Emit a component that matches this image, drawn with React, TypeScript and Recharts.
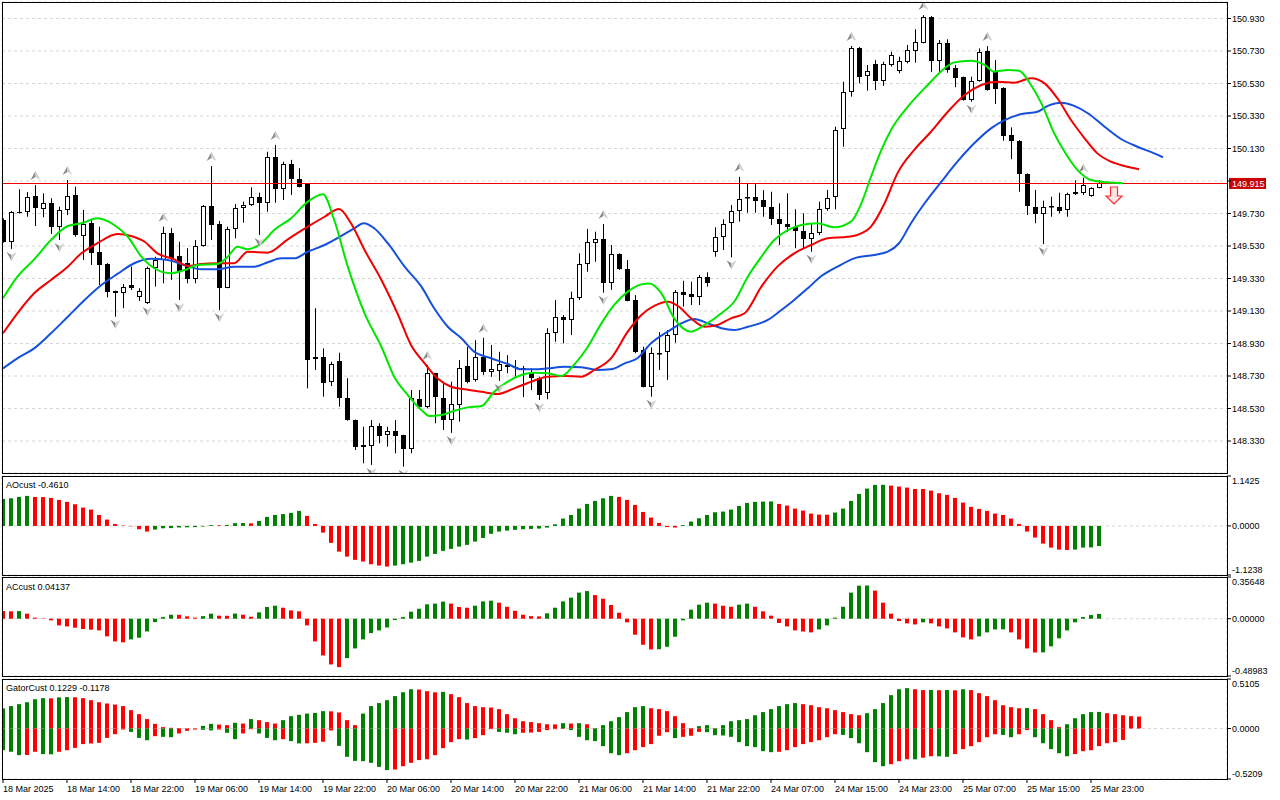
import React from 'react'
import {
  ComposedChart,
  Bar,
  Line,
  Scatter,
  XAxis,
  YAxis,
  CartesianGrid,
  ReferenceLine,
  Cell
} from 'recharts'

const FONT = '"Liberation Sans", Arial, sans-serif'
const GREEN = '#008000'
const RED = '#ff0000'
const GRID = '#d6d6d6'

// H1 candles, 18 Mar 06:00 .. 26 Mar 00:00
const opens = [
  149.690, 149.556, 149.740, 149.737, 149.838, 149.756, 149.793, 149.649, 149.750, 149.844,
  149.592, 149.673, 149.495, 149.420, 149.253, 149.239, 149.290, 149.218, 149.177, 149.393,
  149.444, 149.612, 149.468, 149.424, 149.325, 149.532, 149.776, 149.665, 149.273, 149.633,
  149.762, 149.780, 149.830, 149.793, 150.076, 149.879, 150.035, 149.940, 149.912, 148.833,
  148.845, 148.695, 148.822, 148.593, 148.459, 148.305, 148.299, 148.424, 148.365, 148.393,
  148.365, 148.279, 148.590, 148.541, 148.747, 148.593, 148.459, 148.551, 148.792, 148.705,
  148.849, 148.753, 148.763, 148.797, 148.785, 148.767, 148.747, 148.716, 148.623, 148.993,
  149.095, 149.075, 149.208, 149.417, 149.550, 149.571, 149.304, 149.479, 149.390, 149.198,
  148.890, 148.664, 148.870, 148.876, 148.982, 149.245, 149.235, 149.218, 149.337, 149.495,
  149.583, 149.670, 149.745, 149.823, 149.833, 149.813, 149.772, 149.694, 149.665, 149.649,
  149.624, 149.571, 149.608, 149.756, 149.830, 150.248, 150.476, 150.746, 150.576, 150.650,
  150.547, 150.644, 150.609, 150.664, 150.732, 150.781, 150.941, 150.670, 150.781, 150.623,
  150.568, 150.428, 150.547, 150.730, 150.603, 150.500, 150.213, 150.178, 149.973, 149.768,
  149.727, 149.768, 149.772, 149.752, 149.850, 149.858, 149.840, 149.888
]
const highs = [
  149.700, 149.745, 149.879, 149.862, 149.905, 149.854, 149.824, 149.772, 149.936, 149.895,
  149.752, 149.696, 149.649, 149.425, 149.256, 149.296, 149.403, 149.270, 149.403, 149.464,
  149.649, 149.640, 149.556, 149.516, 149.567, 149.782, 150.022, 149.684, 149.649, 149.788,
  149.803, 149.891, 149.858, 150.110, 150.152, 150.049, 150.060, 150.008, 149.915, 149.147,
  148.900, 148.818, 148.873, 148.716, 148.462, 148.418, 148.459, 148.439, 148.418, 148.459,
  148.368, 148.644, 148.644, 148.798, 148.750, 148.695, 148.695, 148.828, 148.910, 148.950,
  148.965, 148.921, 148.879, 148.859, 148.828, 148.792, 148.777, 148.726, 149.024, 149.198,
  149.105, 149.249, 149.485, 149.635, 149.618, 149.665, 149.536, 149.485, 149.444, 149.228,
  148.910, 148.906, 149.000, 149.013, 149.259, 149.316, 149.310, 149.352, 149.368, 149.645,
  149.694, 149.782, 149.956, 149.916, 149.910, 149.874, 149.864, 149.793, 149.854, 149.756,
  149.731, 149.665, 149.803, 149.875, 150.264, 150.541, 150.761, 150.755, 150.644, 150.674,
  150.664, 150.725, 150.695, 150.767, 150.864, 150.951, 150.945, 150.798, 150.802, 150.644,
  150.572, 150.572, 150.746, 150.760, 150.675, 150.507, 150.260, 150.182, 149.977, 149.875,
  149.809, 149.833, 149.858, 149.858, 149.935, 149.950, 149.891, 149.936
]
const lows = [
  149.550, 149.512, 149.730, 149.710, 149.653, 149.707, 149.604, 149.567, 149.720, 149.587,
  149.444, 149.413, 149.290, 149.214, 149.095, 149.147, 149.259, 149.192, 149.173, 149.280,
  149.300, 149.321, 149.198, 149.300, 149.300, 149.526, 149.567, 149.136, 149.270, 149.577,
  149.673, 149.776, 149.598, 149.741, 149.796, 149.813, 149.844, 149.890, 148.654, 148.767,
  148.603, 148.668, 148.541, 148.455, 148.275, 148.193, 148.183, 148.316, 148.295, 148.254,
  148.172, 148.254, 148.531, 148.531, 148.439, 148.398, 148.380, 148.449, 148.685, 148.695,
  148.736, 148.725, 148.700, 148.747, 148.725, 148.600, 148.644, 148.582, 148.587, 148.941,
  148.931, 148.982, 149.198, 149.372, 149.433, 149.243, 149.260, 149.383, 149.190, 148.870,
  148.660, 148.603, 148.767, 148.706, 148.935, 149.157, 149.167, 149.167, 149.280, 149.464,
  149.505, 149.460, 149.680, 149.735, 149.735, 149.710, 149.659, 149.536, 149.618, 149.516,
  149.516, 149.495, 149.597, 149.747, 149.756, 150.141, 150.449, 150.531, 150.486, 150.490,
  150.515, 150.634, 150.593, 150.654, 150.658, 150.777, 150.602, 150.588, 150.596, 150.507,
  150.424, 150.418, 150.541, 150.486, 150.404, 150.178, 150.064, 149.864, 149.721, 149.670,
  149.542, 149.710, 149.731, 149.710, 149.844, 149.844, 149.833, 149.885
]
const closes = [
  149.557, 149.737, 149.735, 149.833, 149.762, 149.793, 149.649, 149.752, 149.840, 149.598,
  149.665, 149.489, 149.413, 149.249, 149.239, 149.276, 149.270, 149.253, 149.393, 149.444,
  149.608, 149.454, 149.372, 149.325, 149.532, 149.776, 149.659, 149.273, 149.633, 149.762,
  149.780, 149.830, 149.793, 150.080, 149.879, 150.033, 149.941, 149.895, 148.830, 148.845,
  148.689, 148.804, 148.593, 148.459, 148.295, 148.295, 148.424, 148.363, 148.393, 148.361,
  148.279, 148.593, 148.541, 148.747, 148.598, 148.459, 148.556, 148.777, 148.695, 148.849,
  148.753, 148.772, 148.803, 148.785, 148.779, 148.780, 148.716, 148.613, 148.993, 149.091,
  149.075, 149.208, 149.417, 149.553, 149.571, 149.304, 149.479, 149.387, 149.193, 148.880,
  148.664, 148.873, 148.873, 148.982, 149.245, 149.229, 149.218, 149.341, 149.304, 149.583,
  149.665, 149.745, 149.817, 149.833, 149.809, 149.768, 149.694, 149.665, 149.649, 149.624,
  149.571, 149.608, 149.756, 149.827, 150.244, 150.476, 150.746, 150.572, 150.609, 150.547,
  150.650, 150.705, 150.668, 150.735, 150.787, 150.941, 150.670, 150.781, 150.613, 150.562,
  150.428, 150.547, 150.726, 150.490, 150.494, 150.207, 150.178, 149.971, 149.778, 149.727,
  149.768, 149.774, 149.747, 149.848, 149.862, 149.903, 149.885, 149.915
]

const timeLabels = [
  '18 Mar 2025', '18 Mar 14:00', '18 Mar 22:00', '19 Mar 06:00', '19 Mar 14:00', '19 Mar 22:00',
  '20 Mar 06:00', '20 Mar 14:00', '20 Mar 22:00', '21 Mar 06:00', '21 Mar 14:00', '21 Mar 22:00',
  '24 Mar 07:00', '24 Mar 15:00', '24 Mar 23:00', '25 Mar 07:00', '25 Mar 15:00', '25 Mar 23:00'
]
const priceTicks = [
  148.33, 148.53, 148.73, 148.93, 149.13, 149.33, 149.53,
  149.73, 149.93, 150.13, 150.33, 150.53, 150.73, 150.93
]
const lastPrice = 149.915

// alligator lines [bar, price], already shifted forward
const lips: [number, number][] = [
  [0, 149.208], [1.8, 149.341], [3.9, 149.448], [6, 149.567], [8.1, 149.653], [9.8, 149.67],
  [11.8, 149.7], [13.9, 149.659], [15.6, 149.587], [17.3, 149.464], [18.9, 149.393], [21, 149.362],
  [22.7, 149.382], [24.3, 149.413], [26.8, 149.419], [28.1, 149.464], [29.3, 149.526], [30.6, 149.51],
  [32.3, 149.547], [33.9, 149.628], [36, 149.7], [38.1, 149.803], [40, 149.848], [41.4, 149.69],
  [43.1, 149.403], [45.2, 149.116], [47.3, 148.91], [48.9, 148.726], [50.6, 148.613], [52.3, 148.521],
  [53.3, 148.484], [54.8, 148.49], [56.4, 148.516], [58.1, 148.537], [59.8, 148.545], [61.4, 148.633],
  [63.1, 148.695], [64.8, 148.736], [66.4, 148.75], [68.1, 148.747], [69.8, 148.73], [71.4, 148.8],
  [73.1, 148.91], [74.8, 149.054], [76.4, 149.167], [78.1, 149.249], [79.8, 149.294], [80.8, 149.3],
  [82.3, 149.239], [83.9, 149.085], [86, 149.003], [87.7, 149.044], [89.8, 149.116], [91.4, 149.187],
  [93.1, 149.341], [94.8, 149.464], [96.4, 149.567], [98.1, 149.628], [99.8, 149.659], [101.8, 149.67],
  [103.9, 149.645], [106, 149.68], [107.3, 149.793], [108.5, 149.956], [109.8, 150.121], [111, 150.244],
  [113.1, 150.387], [115.6, 150.521], [117.7, 150.624], [118.9, 150.66], [121, 150.67], [122.7, 150.644],
  [123.9, 150.603], [125.6, 150.613], [127, 150.609], [128.5, 150.521], [129.8, 150.408], [131.4, 150.224],
  [132.7, 150.11], [134.3, 149.998], [136, 149.936], [137.9, 149.922], [140, 149.916]
]
const teeth: [number, number][] = [
  [0, 148.993], [1.8, 149.116], [3.9, 149.239], [6, 149.321], [8.1, 149.403], [9.8, 149.485],
  [11.8, 149.547], [14.3, 149.604], [16, 149.592], [17.7, 149.556], [19.3, 149.485], [21.4, 149.448],
  [23.1, 149.407], [24.8, 149.419], [26.8, 149.424], [28.9, 149.424], [30.6, 149.495], [33.1, 149.489],
  [35.6, 149.571], [38.1, 149.649], [40.2, 149.71], [42, 149.758], [43.5, 149.67], [45.2, 149.505],
  [47.3, 149.321], [49.3, 149.116], [51, 148.921], [52.7, 148.808], [54.3, 148.716], [56, 148.664],
  [57.7, 148.648], [59.8, 148.633], [61.8, 148.619], [63.9, 148.654], [66, 148.695], [68.1, 148.726],
  [70.2, 148.73], [72.3, 148.726], [73.9, 148.767], [76, 148.839], [78.1, 149.003], [79.8, 149.105],
  [81.4, 149.161], [83.1, 149.187], [84.5, 149.156], [86, 149.085], [87.7, 149.033], [89.3, 149.044],
  [91, 149.085], [92.7, 149.116], [94.8, 149.28], [96.8, 149.403], [98.9, 149.485], [101, 149.536],
  [103.1, 149.577], [105.6, 149.587], [106.8, 149.598], [108.5, 149.649], [110.2, 149.793], [111.8, 149.977],
  [113.9, 150.121], [116, 150.233], [118.1, 150.356], [120.2, 150.459], [122.3, 150.521], [124.3, 150.541],
  [126.4, 150.535], [128.5, 150.562], [130.2, 150.531], [131.8, 150.439], [133.5, 150.305], [135.2, 150.193],
  [136.8, 150.1], [138.5, 150.049], [140.2, 150.022], [142, 150.002]
]
const jaw: [number, number][] = [
  [0, 148.777], [1.8, 148.839], [3.9, 148.9], [6, 148.993], [8.1, 149.095], [10.2, 149.198],
  [12.3, 149.29], [14.3, 149.358], [16.4, 149.424], [18.5, 149.452], [20.6, 149.444], [22.7, 149.413],
  [24.8, 149.387], [26.8, 149.387], [28.9, 149.403], [31.4, 149.403], [33.1, 149.43], [34.8, 149.454],
  [36.4, 149.454], [38.1, 149.495], [40.2, 149.536], [42.3, 149.592], [43.9, 149.639], [45.1, 149.67],
  [46.4, 149.639], [48.1, 149.547], [50.2, 149.403], [52.3, 149.28], [53.9, 149.147], [55.6, 149.033],
  [57.3, 148.962], [58.9, 148.88], [61, 148.839], [63.1, 148.804], [64.8, 148.771], [66.4, 148.771],
  [68.1, 148.777], [70.2, 148.787], [72.3, 148.784], [74.3, 148.767], [76, 148.771], [77.7, 148.808],
  [79.3, 148.839], [81, 148.931], [83.1, 149.003], [84.8, 149.054], [86.4, 149.081], [88.1, 149.054],
  [89.8, 149.024], [91.4, 149.013], [93.1, 149.033], [95.6, 149.075], [97.3, 149.136], [98.9, 149.198],
  [100.6, 149.27], [102.3, 149.345], [104.3, 149.403], [106.4, 149.454], [108.9, 149.475], [110.6, 149.495],
  [112, 149.547], [113.5, 149.67], [115.2, 149.793], [117.3, 149.926], [119.3, 150.049], [121.4, 150.162],
  [123.5, 150.254], [125.2, 150.305], [127.3, 150.342], [129.3, 150.356], [130.6, 150.392], [132.3, 150.412],
  [133.9, 150.392], [135.6, 150.347], [137.7, 150.264], [139.8, 150.187], [141.8, 150.141], [143.9, 150.1],
  [145, 150.076]
]

const fractalUp = [4, 8, 20, 26, 34, 53, 60, 75, 92, 106, 115, 123, 135]
const fractalDown = [1, 7, 14, 18, 22, 27, 32, 46, 50, 56, 62, 67, 75, 81, 91, 101, 121, 130]
const signalBar = 139
const signalPrice = 149.893

const aoValues = [
  0.618, 0.633, 0.664, 0.687, 0.664, 0.660, 0.641, 0.595, 0.550, 0.496,
  0.419, 0.374, 0.251, 0.145, 0.045, 0.009, -0.009, -0.076, -0.129, -0.084,
  -0.054, -0.050, -0.036, -0.032, -0.027, -0.014, 0.018, 0.014, 0.020, 0.063,
  0.065, 0.059, 0.113, 0.206, 0.251, 0.271, 0.298, 0.344, 0.229, 0.045,
  -0.153, -0.389, -0.588, -0.702, -0.777, -0.816, -0.877, -0.908, -0.931, -0.908,
  -0.877, -0.841, -0.801, -0.702, -0.641, -0.572, -0.526, -0.473, -0.434, -0.359,
  -0.275, -0.181, -0.129, -0.107, -0.090, -0.076, -0.069, -0.061, -0.038, 0.038,
  0.168, 0.251, 0.397, 0.504, 0.572, 0.633, 0.687, 0.664, 0.595, 0.481,
  0.320, 0.191, 0.069, -0.027, -0.036, 0.018, 0.099, 0.175, 0.251, 0.313,
  0.328, 0.374, 0.457, 0.526, 0.550, 0.557, 0.560, 0.504, 0.466, 0.397,
  0.351, 0.282, 0.259, 0.257, 0.306, 0.397, 0.572, 0.732, 0.854, 0.938,
  0.941, 0.923, 0.900, 0.877, 0.847, 0.845, 0.809, 0.748, 0.710, 0.641,
  0.534, 0.435, 0.389, 0.344, 0.282, 0.251, 0.168, 0.045, -0.129, -0.267,
  -0.404, -0.496, -0.542, -0.551, -0.542, -0.496, -0.493, -0.461
]
const aoPrev = 0.6
const acValues = [
  0.066, 0.063, 0.065, 0.043, 0.009, 0.003, -0.014, -0.057, -0.066, -0.077,
  -0.088, -0.094, -0.100, -0.151, -0.194, -0.202, -0.177, -0.163, -0.109, -0.029,
  0.014, 0.034, 0.033, 0.020, 0.009, 0.022, 0.043, 0.026, 0.025, 0.044,
  0.034, 0.017, 0.054, 0.100, 0.111, 0.094, 0.071, 0.063, -0.057, -0.194,
  -0.314, -0.391, -0.414, -0.337, -0.254, -0.177, -0.123, -0.100, -0.075, -0.011,
  0.014, 0.060, 0.085, 0.123, 0.129, 0.146, 0.129, 0.100, 0.094, 0.111,
  0.148, 0.154, 0.137, 0.102, 0.068, 0.034, 0.022, 0.020, 0.046, 0.094,
  0.148, 0.180, 0.223, 0.236, 0.202, 0.171, 0.117, 0.051, -0.031, -0.137,
  -0.223, -0.263, -0.261, -0.240, -0.154, -0.014, 0.077, 0.120, 0.137, 0.129,
  0.111, 0.102, 0.120, 0.129, 0.102, 0.063, 0.026, -0.037, -0.066, -0.100,
  -0.109, -0.117, -0.092, -0.057, 0.009, 0.102, 0.223, 0.282, 0.284, 0.240,
  0.137, 0.043, -0.020, -0.040, -0.049, -0.031, -0.040, -0.066, -0.083, -0.117,
  -0.160, -0.177, -0.151, -0.117, -0.092, -0.091, -0.117, -0.177, -0.254, -0.289,
  -0.288, -0.236, -0.168, -0.100, -0.031, 0.014, 0.031, 0.041
]
const acPrev = 0.068
const gatorUp = [
  0.207, 0.231, 0.251, 0.271, 0.302, 0.313, 0.311, 0.321, 0.324, 0.322,
  0.313, 0.292, 0.271, 0.258, 0.247, 0.231, 0.189, 0.148, 0.097, 0.048,
  0.014, 0.007, 0.004, 0.002, 0.001, 0.027, 0.048, 0.040, 0.035, 0.059,
  0.051, 0.097, 0.086, 0.066, 0.051, 0.086, 0.127, 0.141, 0.154, 0.161,
  0.179, 0.177, 0.165, 0.086, 0.035, 0.154, 0.231, 0.262, 0.292, 0.334,
  0.374, 0.405, 0.402, 0.385, 0.373, 0.378, 0.354, 0.323, 0.262, 0.231,
  0.220, 0.216, 0.200, 0.148, 0.106, 0.075, 0.066, 0.055, 0.044, 0.042,
  0.055, 0.051, 0.055, 0.044, 0.004, 0.035, 0.075, 0.117, 0.169, 0.220,
  0.231, 0.209, 0.200, 0.179, 0.127, 0.055, 0.004, 0.024, 0.035, 0.004,
  0.035, 0.075, 0.086, 0.097, 0.137, 0.169, 0.200, 0.231, 0.251, 0.262,
  0.251, 0.240, 0.220, 0.209, 0.189, 0.169, 0.148, 0.137, 0.158, 0.200,
  0.262, 0.344, 0.405, 0.416, 0.405, 0.396, 0.398, 0.395, 0.397, 0.394,
  0.405, 0.396, 0.365, 0.334, 0.292, 0.240, 0.220, 0.209, 0.211, 0.200,
  0.148, 0.086, 0.014, 0.044, 0.106, 0.148, 0.169, 0.171, 0.158, 0.148,
  0.137, 0.127, 0.123
]
const gatorDown = [
  -0.224, -0.240, -0.275, -0.273, -0.240, -0.264, -0.266, -0.240, -0.224, -0.200,
  -0.161, -0.154, -0.148, -0.097, -0.059, -0.011, -0.035, -0.097, -0.121, -0.079,
  -0.086, -0.090, -0.051, -0.024, -0.011, -0.014, -0.020, -0.011, -0.044, -0.110,
  -0.051, -0.007, -0.051, -0.097, -0.121, -0.110, -0.130, -0.154, -0.153, -0.148,
  -0.137, -0.020, -0.179, -0.292, -0.334, -0.337, -0.354, -0.396, -0.429, -0.423,
  -0.389, -0.354, -0.326, -0.317, -0.275, -0.203, -0.141, -0.110, -0.114, -0.099,
  -0.069, -0.007, -0.035, -0.044, -0.059, -0.044, -0.042, -0.035, -0.017, -0.007,
  -0.004, -0.017, -0.086, -0.121, -0.130, -0.182, -0.255, -0.275, -0.255, -0.224,
  -0.192, -0.161, -0.075, -0.038, -0.099, -0.086, -0.075, -0.035, -0.038, -0.069,
  -0.072, -0.086, -0.141, -0.182, -0.192, -0.234, -0.244, -0.240, -0.224, -0.192,
  -0.161, -0.141, -0.121, -0.090, -0.059, -0.066, -0.099, -0.152, -0.244, -0.347,
  -0.389, -0.368, -0.337, -0.317, -0.318, -0.302, -0.286, -0.287, -0.292, -0.264,
  -0.213, -0.182, -0.141, -0.090, -0.059, -0.066, -0.090, -0.059, -0.017, -0.090,
  -0.152, -0.213, -0.255, -0.286, -0.264, -0.234, -0.224, -0.182, -0.152, -0.141,
  -0.118
]
const gatorUpPrev = 0.2
const gatorDownPrev = -0.21

const aoRange: [number, number] = [-1.1238, 1.1425]
const acRange: [number, number] = [-0.48983, 0.35648]
const gatorRange: [number, number] = [-0.5209, 0.5105]

// one bar = 8px, plot runs from x=2 to x=1227
const X_DOMAIN: [number, number] = [-0.125, 153]
const gridIdx = Array.from({ length: 39 }, (_, k) => k * 4)
const timeIdx = timeLabels.map((_, k) => k * 8)
const MARGIN = { top: 2, right: 0, bottom: 1, left: 2 }

const candles = opens.map((o, i) => ({
  i, o, h: highs[i], l: lows[i], c: closes[i], range: [lows[i], highs[i]]
}))
const toRows = (pts: [number, number][]) => pts.map(([i, v]) => ({ i, v }))
const upRows = fractalUp.map((i) => ({ i, v: highs[i] }))
const downRows = fractalDown.map((i) => ({ i, v: lows[i] }))
const signalRows = [{ i: signalBar, v: signalPrice }]

const risingColors = (vals: number[], prev: number, useAbs = false) =>
  vals.map((v, k) => {
    const before = k === 0 ? prev : vals[k - 1]
    const a = useAbs ? Math.abs(v) : v
    const b = useAbs ? Math.abs(before) : before
    return a > b ? GREEN : RED
  })

const aoRows = aoValues.map((v, i) => ({ i, v }))
const acRows = acValues.map((v, i) => ({ i, v }))
const gatorRows = gatorUp.map((up, i) => ({ i, up, lo: i < gatorDown.length ? gatorDown[i] : null }))
const aoColors = risingColors(aoValues, aoPrev)
const acColors = risingColors(acValues, acPrev)
const upColors = risingColors(gatorUp, gatorUpPrev)
const loColors = risingColors(gatorDown, gatorDownPrev, true)

function Candle(props: any) {
  const { x, y, width, height, payload } = props
  if (!payload) return null
  const { o, h, l, c } = payload
  const cx = Math.round(x + width / 2)
  const top0 = Math.min(y, y + height)
  const hh = Math.abs(height)
  const k = hh / (h - l)
  const bTop = Math.round(top0 + (h - Math.max(o, c)) * k)
  const bBot = Math.round(top0 + (h - Math.min(o, c)) * k)
  const bh = Math.max(bBot - bTop, 1)
  return (
    <g>
      <line x1={cx + 0.5} x2={cx + 0.5} y1={top0} y2={top0 + hh} stroke="#000" strokeWidth={1} />
      {c >= o ? (
        <rect x={cx - 1.5} y={bTop + 0.5} width={4} height={Math.max(bh - 1, 0.5)} fill="#fff" stroke="#000" strokeWidth={1} />
      ) : (
        <rect x={cx - 2} y={bTop} width={5} height={bh} fill="#000" />
      )}
    </g>
  )
}

function FractalUp(p: any) {
  const { cx, cy } = p
  const x = cx + 0.5
  const t = cy - 14
  return (
    <g>
      <polygon points={`${x},${t} ${x - 5},${t + 9} ${x},${t + 6}`} fill="#8a8a8a" />
      <polygon points={`${x},${t} ${x + 5},${t + 9} ${x},${t + 6}`} fill="#d0d0d0" />
    </g>
  )
}

function FractalDown(p: any) {
  const { cx, cy } = p
  const x = cx + 0.5
  const b = cy + 12
  return (
    <g>
      <polygon points={`${x},${b} ${x - 5},${b - 9} ${x},${b - 6}`} fill="#8a8a8a" />
      <polygon points={`${x},${b} ${x + 5},${b - 9} ${x},${b - 6}`} fill="#d0d0d0" />
    </g>
  )
}

function SignalArrow(p: any) {
  const { cx, cy } = p
  const x = cx - 1
  const pts = [[-3.5, 0], [3.5, 0], [3.5, 9], [8, 9], [0, 17], [-8, 9], [-3.5, 9]]
    .map(([dx, dy]) => `${x + dx},${cy + dy}`)
    .join(' ')
  return <polygon points={pts} fill="#ffe6e6" stroke="#ff2a2a" strokeWidth={1.2} />
}

function PriceTick(props: any) {
  const { x, y, payload } = props
  if (Math.abs(payload.value - 149.93) < 1e-6) return null
  return (
    <text x={x} y={y + 3.2} fontSize={9} fontFamily={FONT} fill="#000">
      {payload.value.toFixed(3)}
    </text>
  )
}

function PriceTag(props: any) {
  const vb = props.viewBox
  if (!vb) return null
  const right = vb.x + vb.width
  return (
    <g>
      <rect x={right + 2} y={vb.y - 5.5} width={37} height={11} fill="#c80000" />
      <text x={right + 5} y={vb.y + 3.2} fontSize={9} fontFamily={FONT} fill="#fff">
        {lastPrice.toFixed(3)}
      </text>
    </g>
  )
}

const edgeTick = (range: [number, number], digits: number) => (props: any) => {
  const { x, y, payload } = props
  const v = payload.value
  const shift = v === range[1] ? 5 : v === range[0] ? -5 : 0
  return (
    <text x={x} y={y + shift + 3.2} fontSize={9} fontFamily={FONT} fill="#000">
      {v.toFixed(digits)}
    </text>
  )
}

function TimeTick(props: any) {
  const { x, y, payload } = props
  const k = timeIdx.indexOf(payload.value)
  if (k < 0) return null
  return (
    <text x={x} y={y + 8.5} fontSize={9} fontFamily={FONT} fill="#000">
      {timeLabels[k]}
    </text>
  )
}

const gridAxis = (
  <XAxis
    dataKey="i"
    type="number"
    domain={X_DOMAIN}
    ticks={gridIdx}
    interval={0}
    allowDataOverflow
    height={0}
    tick={false}
    tickLine={false}
    axisLine={false}
  />
)

function subYAxis(range: [number, number], digits: number) {
  return (
    <YAxis
      orientation="right"
      width={53}
      type="number"
      domain={range}
      ticks={[range[0], 0, range[1]]}
      interval={0}
      allowDataOverflow
      tick={edgeTick(range, digits)}
      tickSize={4}
      tickMargin={1}
      tickLine={{ stroke: '#000' }}
      axisLine={false}
    />
  )
}

const box = (top: number, height: number): React.CSSProperties => ({
  position: 'absolute',
  left: 2,
  top,
  width: 1226,
  height,
  border: '1px solid #000',
  boxSizing: 'border-box',
  pointerEvents: 'none'
})

const caption = (top: number): React.CSSProperties => ({
  position: 'absolute',
  left: 6,
  top,
  fontFamily: FONT,
  fontSize: 9,
  lineHeight: '10px',
  color: '#000',
  whiteSpace: 'nowrap'
})

export default function App() {
  return (
    <div style={{ position: 'absolute', left: 0, top: 0, width: 1280, height: 800, background: '#fff', overflow: 'hidden' }}>
      <div style={{ position: 'absolute', left: 0, top: 0 }}>
        <ComposedChart width={1280} height={474} data={candles} margin={MARGIN}>
          <CartesianGrid stroke={GRID} strokeDasharray="3 3" />
          {gridAxis}
          <YAxis
            orientation="right"
            width={53}
            type="number"
            domain={[148.1331, 151.0315]}
            ticks={priceTicks}
            interval={0}
            allowDataOverflow
            tick={<PriceTick />}
            tickSize={4}
            tickMargin={1}
            tickLine={{ stroke: '#000' }}
            axisLine={false}
          />
          <ReferenceLine
            y={lastPrice}
            stroke="#ee0000"
            strokeWidth={1}
            shapeRendering="crispEdges"
            label={(p: any) => <PriceTag {...p} />}
          />
          <Bar dataKey="range" barSize={5} shape={Candle} isAnimationActive={false} />
          <Line data={toRows(jaw)} dataKey="v" type="monotone" stroke="#1450dc" strokeWidth={2} dot={false} activeDot={false} isAnimationActive={false} />
          <Line data={toRows(teeth)} dataKey="v" type="monotone" stroke="#f00000" strokeWidth={2} dot={false} activeDot={false} isAnimationActive={false} />
          <Line data={toRows(lips)} dataKey="v" type="monotone" stroke="#00e600" strokeWidth={2} dot={false} activeDot={false} isAnimationActive={false} />
          <Scatter data={upRows} dataKey="v" shape={FractalUp} isAnimationActive={false} />
          <Scatter data={downRows} dataKey="v" shape={FractalDown} isAnimationActive={false} />
          <Scatter data={signalRows} dataKey="v" shape={SignalArrow} isAnimationActive={false} />
        </ComposedChart>
      </div>

      <div style={{ position: 'absolute', left: 0, top: 474 }}>
        <ComposedChart width={1280} height={102} data={aoRows} margin={MARGIN}>
          <CartesianGrid stroke={GRID} strokeDasharray="3 3" />
          {gridAxis}
          {subYAxis(aoRange, 4)}
          <Bar dataKey="v" barSize={4} isAnimationActive={false}>
            {aoRows.map((r) => <Cell key={r.i} fill={aoColors[r.i]} />)}
          </Bar>
        </ComposedChart>
      </div>

      <div style={{ position: 'absolute', left: 0, top: 575 }}>
        <ComposedChart width={1280} height={102} data={acRows} margin={MARGIN}>
          <CartesianGrid stroke={GRID} strokeDasharray="3 3" />
          {gridAxis}
          {subYAxis(acRange, 5)}
          <Bar dataKey="v" barSize={4} isAnimationActive={false}>
            {acRows.map((r) => <Cell key={r.i} fill={acColors[r.i]} />)}
          </Bar>
        </ComposedChart>
      </div>

      <div style={{ position: 'absolute', left: 0, top: 677 }}>
        <ComposedChart width={1280} height={123} data={gatorRows} margin={{ top: 2, right: 0, bottom: 0, left: 2 }} stackOffset="sign">
          <CartesianGrid stroke={GRID} strokeDasharray="3 3" />
          {gridAxis}
          <XAxis
            xAxisId="time"
            dataKey="i"
            type="number"
            domain={X_DOMAIN}
            ticks={timeIdx}
            interval={0}
            allowDataOverflow
            height={21}
            tick={<TimeTick />}
            tickSize={4}
            tickMargin={0}
            tickLine={{ stroke: '#000' }}
            axisLine={false}
          />
          {subYAxis(gatorRange, 4)}
          <Bar dataKey="up" stackId="g" barSize={4} isAnimationActive={false}>
            {gatorRows.map((r) => <Cell key={r.i} fill={upColors[r.i]} />)}
          </Bar>
          <Bar dataKey="lo" stackId="g" barSize={4} isAnimationActive={false}>
            {gatorRows.map((r) => <Cell key={r.i} fill={loColors[r.i] || RED} />)}
          </Bar>
        </ComposedChart>
      </div>

      <div style={box(2, 472)} />
      <div style={box(476, 100)} />
      <div style={box(577, 100)} />
      <div style={box(679, 101)} />

      <div style={caption(480)}>AOcust -0.4610</div>
      <div style={caption(582)}>ACcust 0.04137</div>
      <div style={caption(683)}>GatorCust 0.1229 -0.1178</div>
    </div>
  )
}
